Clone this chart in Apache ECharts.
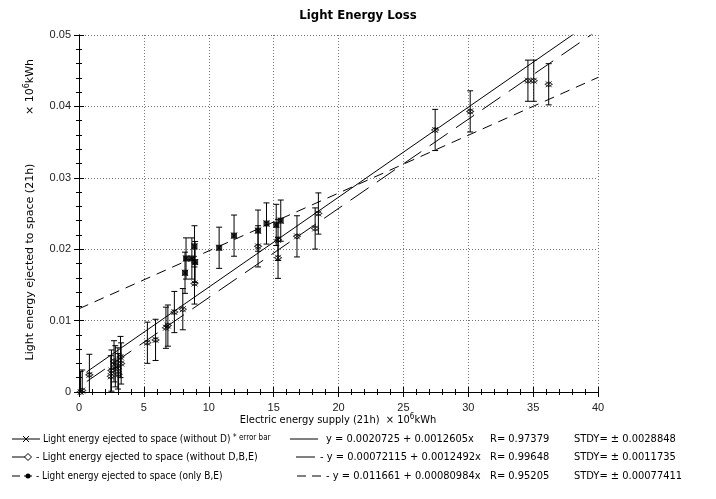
<!DOCTYPE html>
<html><head><meta charset="utf-8">
<script src="https://cdn.jsdelivr.net/npm/echarts@6/dist/echarts.min.js"></script>
<style>html,body{margin:0;padding:0;background:#fff}#c{width:716px;height:499px}</style>
</head><body><div id="c"></div>
<script>
// ---- data ----
// points "without D,B,E"
const xA = [0.12, 0.25, 0.8, 2.45, 2.5, 2.7, 2.8, 3.0, 3.05, 3.2, 3.25, 5.27, 5.9, 6.7, 6.85, 7.35, 8.0, 8.9, 13.8, 15.34, 15.34, 16.8, 18.2, 18.45, 27.45, 30.15, 34.6, 35.05, 36.2];
const yA = [0.0000, 0.0002, 0.0024, 0.0022, 0.0030, 0.0043, 0.0036, 0.0033, 0.0025, 0.0049, 0.0040, 0.0069, 0.0073, 0.0090, 0.0093, 0.0112, 0.0116, 0.0152, 0.0204, 0.0213, 0.0188, 0.0218, 0.0229, 0.0250, 0.0367, 0.0393, 0.0436, 0.0436, 0.0431];
// points "only B,E"
const xBE = [8.17, 8.25, 8.7, 8.9, 8.95, 10.8, 11.95, 13.8, 14.45, 15.2, 15.55];
const yBE = [0.0167, 0.0187, 0.0187, 0.0204, 0.0182, 0.0202, 0.0219, 0.0226, 0.0236, 0.0234, 0.0240];
// error bar half height (STDY of the first fit)
const errorBar = 0.0028848;
// regression lines as printed in the chart
const fitIntercept = [0.0020725, 0.00072115, 0.011661];
const fitSlope = [0.0012605, 0.0012492, 0.00080984];
const fitFrom = [0.6, 0.6, 0];
const fitTo = [40, 40, 40];
const fitR = ['0.97379', '0.99648', '0.95205'];
const fitSTDY = ['0.0028848', '0.0011735', '0.00077411'];
const fitText = ['y = 0.0020725 + 0.0012605x', '- y = 0.00072115 + 0.0012492x', '- y = 0.011661 + 0.00080984x'];
const legendNames = ['Light energy ejected to space (without D)', '- Light energy ejected to space (without D,B,E)', '- Light energy ejected to space (only B,E)'];
const xTickStep = 5, yTickStep = 0.01;

// ---- build ----
const ptsA = xA.map((x, i) => [x, yA[i]]);
const ptsBE = xBE.map((x, i) => [x, yBE[i]]);
const ptsAll = ptsA.concat(ptsBE);
const fitLine = k => [[fitFrom[k], fitIntercept[k] + fitSlope[k] * fitFrom[k]], [fitTo[k], fitIntercept[k] + fitSlope[k] * fitTo[k]]];

const FONT = "'DejaVu Sans Condensed',sans-serif";
const LF = 10;
const X_PATH = 'path://M0,0L10,10M10,0L0,10';

function axisCommon(pos, showLabel, showSplit) {
  return {
    type: 'value', position: pos,
    axisLine: { show: true, lineStyle: { color: '#000', width: 1 } },
    axisTick: { show: true, inside: true, length: 5, lineStyle: { color: '#000' } },
    minorTick: { show: true, splitNumber: 5, length: 3, lineStyle: { color: '#000' } },
    splitLine: { show: showSplit, lineStyle: { color: '#777', type: [1, 2], width: 1 } },
    axisLabel: { show: showLabel, color: '#222', fontFamily: 'Liberation Sans', fontSize: 11 }
  };
}

const xBottom = Object.assign(axisCommon('bottom', true, true), { min: 0, max: 40, interval: xTickStep });
xBottom.axisLabel.margin = 10;
const xTop = Object.assign(axisCommon('top', false, false), { min: 0, max: 40, interval: xTickStep });
const yLeft = Object.assign(axisCommon('left', true, true), { min: 0, max: 0.05, interval: yTickStep });
yLeft.axisLabel.margin = 8;
yLeft.axisLabel.formatter = v => v === 0 ? '0' : v.toFixed(2);
const yRight = Object.assign(axisCommon('right', false, false), { min: 0, max: 0.05, interval: yTickStep });

const rows = [439, 457, 476];
const g = [];
const txt = (x, y, s, size, extra) => g.push(Object.assign({ type: 'text', x: x, y: y, style: { text: s, font: (size || LF) + 'px ' + FONT, fill: '#000', verticalAlign: 'middle' } }, extra || {}));
const ln = (x1, y1, x2, y2) => g.push({ type: 'line', shape: { x1: x1, y1: y1, x2: x2, y2: y2 }, style: { stroke: '#000', lineWidth: 1 } });

// row 1
ln(12, rows[0], 40, rows[0]); ln(23, rows[0] - 3, 29, rows[0] + 3); ln(23, rows[0] + 3, 29, rows[0] - 3);
txt(43, rows[0], legendNames[0]);
txt(233, rows[0] - 1, '* error bar', 8);
ln(290, rows[0], 318, rows[0]);
// row 2
ln(12, rows[1], 25, rows[1]);
g.push({ type: 'polygon', shape: { points: [[28, rows[1] - 3.5], [31.5, rows[1]], [28, rows[1] + 3.5], [24.5, rows[1]]] }, style: { fill: '#fff', stroke: '#000', lineWidth: 1 } });
txt(36, rows[1], legendNames[1], 10.5);
ln(296, rows[1], 315, rows[1]);
// row 3
ln(12, rows[2], 20, rows[2]); ln(24, rows[2], 32, rows[2]);
g.push({ type: 'circle', shape: { cx: 28, cy: rows[2], r: 2.5 }, style: { fill: '#000' } });
txt(36, rows[2], legendNames[2]);
ln(297, rows[2], 306, rows[2]); ln(312, rows[2], 321, rows[2]);
// formulas
const fx = [326, 320, 326];
for (let k = 0; k < 3; k++) {
  txt(fx[k], rows[k], fitText[k], 11);
  txt(490, rows[k], 'R= ' + fitR[k], 11);
  txt(574, rows[k], 'STDY= \u00b1 ' + fitSTDY[k], 11);
}
// axis names
g.push({ type: 'text', x: 338, y: 420, style: { text: '{a|Electric energy supply (21h)  \u00d7 10}{s|6}{a|kWh}', rich: { a: { font: '11px ' + FONT, fill: '#000' }, s: { font: '8px ' + FONT, fill: '#000', padding: [0, 0, 6, 0] } }, align: 'center', verticalAlign: 'middle' } });
g.push({ type: 'text', x: 30, y: 262, rotation: Math.PI / 2, style: { text: 'Light energy ejected to space (21h)', font: '11px DejaVu Sans, sans-serif', fill: '#000', align: 'center', verticalAlign: 'middle' } });
g.push({ type: 'text', x: 30, y: 87, rotation: Math.PI / 2, style: { text: '{a|\u00d7 10}{s|6}{a|kWh}', rich: { a: { font: '11px DejaVu Sans, sans-serif', fill: '#000' }, s: { font: '8px DejaVu Sans, sans-serif', fill: '#000', padding: [0, 0, 6, 0] } }, align: 'center', verticalAlign: 'middle' } });
g.push({ type: 'text', x: 358, y: 16, style: { text: 'Light Energy Loss', font: 'bold 13px ' + FONT, fill: '#000', align: 'center', verticalAlign: 'middle' } });

const chart = echarts.init(document.getElementById('c'), null, { renderer: 'canvas' });
chart.setOption({
  animation: false,
  backgroundColor: '#fff',
  grid: { left: 79, right: 118, top: 35, bottom: 107 },
  xAxis: [xBottom, xTop],
  yAxis: [yLeft, yRight],
  graphic: g,
  series: [
    { type: 'line', data: fitLine(0), symbol: 'none', clip: true, lineStyle: { color: '#000', width: 1 } },
    { type: 'line', data: fitLine(1), symbol: 'none', clip: true, lineStyle: { color: '#000', width: 1, type: [22, 10] } },
    { type: 'line', data: fitLine(2), symbol: 'none', clip: true, lineStyle: { color: '#000', width: 1, type: [10, 7] } },
    {
      type: 'custom', clip: true, data: ptsAll.map(p => [p[0], p[1], errorBar]),
      renderItem: (params, api) => {
        const x = api.value(0), y = api.value(1), e = api.value(2);
        const top = api.coord([x, y + e]), bot = api.coord([x, y - e]);
        const w = 3;
        const st = { stroke: '#000', lineWidth: 1 };
        return { type: 'group', children: [
          { type: 'line', shape: { x1: top[0], y1: top[1], x2: bot[0], y2: bot[1] }, style: st },
          { type: 'line', shape: { x1: top[0] - w, y1: top[1], x2: top[0] + w, y2: top[1] }, style: st },
          { type: 'line', shape: { x1: bot[0] - w, y1: bot[1], x2: bot[0] + w, y2: bot[1] }, style: st }
        ] };
      }
    },
    { type: 'scatter', data: ptsAll, symbol: X_PATH, symbolSize: 6, itemStyle: { color: 'rgba(0,0,0,0)', borderColor: '#000', borderWidth: 1 } },
    { type: 'scatter', data: ptsA, symbol: 'diamond', symbolSize: [7, 5], itemStyle: { color: 'rgba(0,0,0,0)', borderColor: '#000', borderWidth: 1 } },
    { type: 'scatter', data: ptsBE, symbol: 'rect', symbolSize: 6, itemStyle: { color: '#000' } }
  ]
});
</script></body></html>
